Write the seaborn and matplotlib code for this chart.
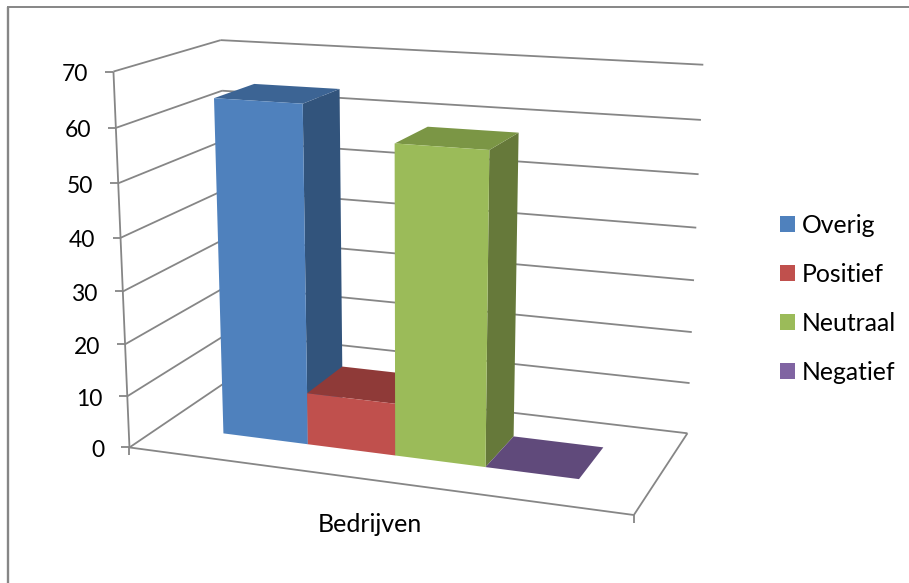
import numpy as np
import pandas as pd
import matplotlib
matplotlib.use("Agg")
import matplotlib.pyplot as plt
from matplotlib.patches import Patch, Polygon
import seaborn as sns

# Chart data
category = ["Bedrijven"]
series_names = ["Overig", "Positief", "Neutraal", "Negatief"]
series_values = [64, 10, 58, 0]
value_ticks = [0, 10, 20, 30, 40, 50, 60, 70]

front_colors = ["#4F81BD", "#C0504D", "#9BBB59", "#8064A2"]
top_colors = ["#3C6494", "#8F3A38", "#7B9645", "#604A7B"]
side_colors = ["#32547C", "#8F3A38", "#66793A", "#604A7B"]
line_color = "#868686"

sns.set_theme(style="white")
plt.rcParams["font.family"] = ["Lato", "DejaVu Sans"]

W, H = 909, 583
fig = plt.figure(figsize=(W / 100, H / 100), dpi=100)
ax = fig.add_axes([0, 0, 1, 1])
ax.set_xlim(0, W)
ax.set_ylim(H, 0)
ax.axis("off")

# Seaborn lays out the clustered columns; they are then projected into the box.
table = pd.DataFrame({
    "categorie": category * len(series_names),
    "reeks": series_names,
    "waarde": series_values,
})
layout_ax = fig.add_axes([0, 0, 0.1, 0.1])
sns.barplot(data=table, x="categorie", y="waarde", hue="reeks",
            hue_order=series_names, width=4 / 5.5, gap=0, saturation=1,
            legend=False, ax=layout_ax)
columns = [c[0] for c in layout_ax.containers]
layout_ax.set_visible(False)

# Perspective camera fitted to the corners of the chart box:
# (width fraction, value fraction, depth fraction) -> pixel position.
box_corners = [
    ((0, 0, 0), (129.3, 447.3)),
    ((1, 0, 0), (634.0, 515.0)),
    ((1, 0, 1), (687.3, 433.3)),
    ((0, 0, 1), (230.0, 379.5)),
    ((0, 1, 0), (113.5, 71.7)),
    ((0, 1, 1), (220.7, 40.0)),
    ((1, 1, 1), (703.3, 64.7)),
]
rows, rhs = [], []
for (a, b, c), (u, v) in box_corners:
    rows.append([a, b, c, 1, 0, 0, 0, 0, -u * a, -u * b, -u * c])
    rhs.append(u)
    rows.append([0, 0, 0, 0, a, b, c, 1, -v * a, -v * b, -v * c])
    rhs.append(v)
camera = np.append(np.linalg.lstsq(np.array(rows), np.array(rhs), rcond=None)[0], 1).reshape(3, 4)
v_max = value_ticks[-1]


def project(x, value, depth):
    u, v, w = camera @ np.array([x, value / v_max, depth, 1.0])
    return u / w, v / w


def wall_line(p, q, lw=1.3):
    (x0, y0), (x1, y1) = p, q
    ax.plot([x0, x1], [y0, y1], color=line_color, lw=lw, solid_capstyle="butt", zorder=1)


# Outer chart border (left and top edges)
wall_line((8, H), (8, 7), lw=1.7)
wall_line((7.4, 7), (W, 7), lw=1.4)

# Gridlines along the left and back walls, with value ticks and labels
for t in value_ticks:
    front = project(0, t, 0)
    corner = project(0, t, 1)
    right = project(1, t, 1)
    wall_line(front, corner)
    wall_line(corner, right)
    wall_line((front[0] - 8, front[1]), front)
    ax.text(front[0] - 25, front[1] + 2.8, str(t), ha="right", va="center",
            fontsize=16.5, color="black")

# Vertical axis, floor edges and the two lower ticks
wall_line(project(0, 0, 0), project(0, v_max, 0))
wall_line(project(0, 0, 0), project(1, 0, 0))
wall_line(project(1, 0, 0), project(1, 0, 1))
for x in (0, 1):
    px, py = project(x, 0, 0)
    wall_line((px, py), (px, py + 8))

# Columns, left to right so each one overlaps its neighbour correctly
depth_front, depth_back = 0.30, 0.70
for bar, front_c, top_c, side_c in zip(columns, front_colors, top_colors, side_colors):
    x0 = bar.get_x() + 0.5
    x1 = x0 + bar.get_width()
    h = bar.get_height()
    side = [project(x1, 0, depth_front), project(x1, 0, depth_back),
            project(x1, h, depth_back), project(x1, h, depth_front)]
    top = [project(x0, h, depth_front), project(x1, h, depth_front),
           project(x1, h, depth_back), project(x0, h, depth_back)]
    face = [project(x0, 0, depth_front), project(x1, 0, depth_front),
            project(x1, h, depth_front), project(x0, h, depth_front)]
    for corners, colour in ((side, side_c), (top, top_c), (face, front_c)):
        ax.add_patch(Polygon(corners, closed=True, facecolor=colour, edgecolor="none", zorder=2))

# Category label
ax.text(369.5, 525, category[0], ha="center", va="center", fontsize=18, color="black")

# Legend
legend_font = 17.8
font_px = legend_font * 100 / 72
handles = [Patch(facecolor=c, edgecolor="none", label=n) for c, n in zip(front_colors, series_names)]
ax.legend(handles=handles, loc="center left", bbox_to_anchor=(780, 299), bbox_transform=ax.transData,
          frameon=False, fontsize=legend_font, borderpad=0, borderaxespad=0,
          handlelength=15 / font_px, handleheight=15 / font_px,
          handletextpad=7 / font_px, labelspacing=1.05, labelcolor="black")

fig.savefig("out.png", dpi=100)
